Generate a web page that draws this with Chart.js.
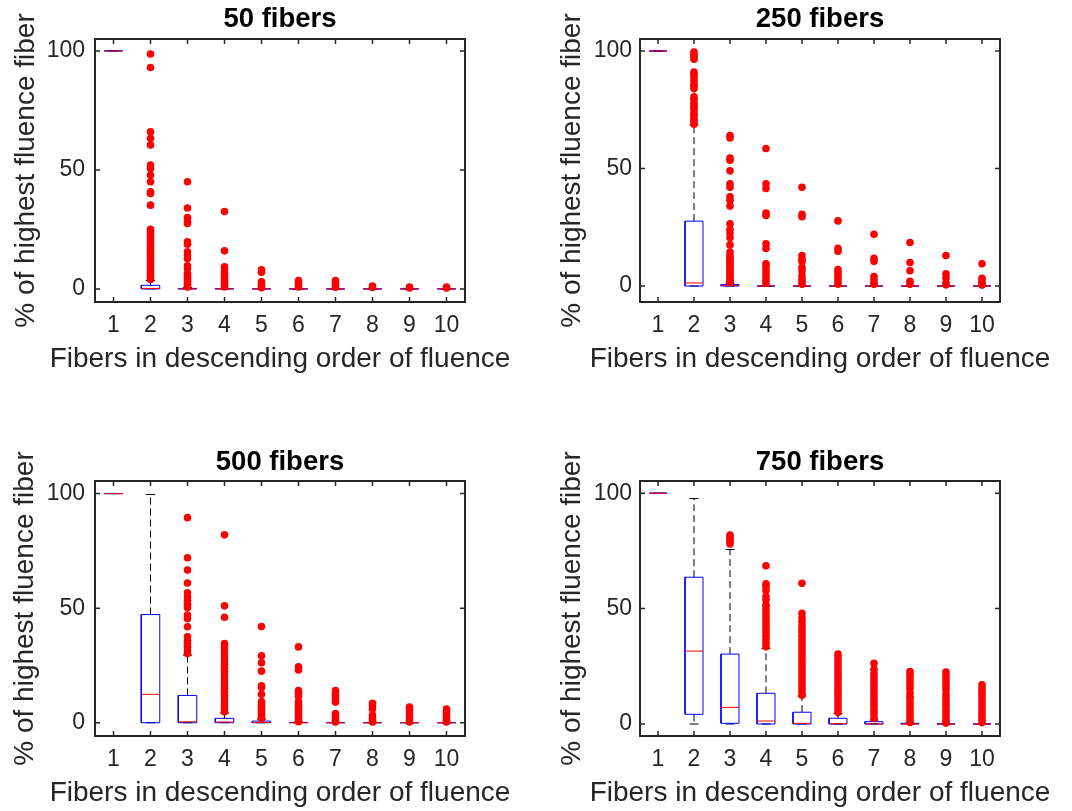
<!DOCTYPE html>
<html>
<head>
<meta charset="utf-8">
<script src="https://cdn.jsdelivr.net/npm/chart.js@4.4.1/dist/chart.umd.min.js"></script>
<style>
  body { margin: 0; background: #fff; }
  #wrap { position: relative; width: 1072px; height: 811px; }
  .panel { position: absolute; }
</style>
</head>
<body>
<div id="wrap"></div>
<script>
// categories (fiber rank) and tick labels
const categories = [1, 2, 3, 4, 5, 6, 7, 8, 9, 10];
const yTickValues = [0, 50, 100];
const panelTitles = ['50 fibers', '250 fibers', '500 fibers', '750 fibers'];
const xTitle = 'Fibers in descending order of fluence';
const yTitle = '% of highest fluence fiber';

// 50 fibers
const q1_50  = [100, 0, 0, 0, 0, 0, 0, 0, 0, 0];
const med_50 = [100, 0.2, 0, 0, 0, 0, 0, 0, 0, 0];
const q3_50  = [100, 1.5, 0.2, 0.1, 0, 0, 0, 0, 0, 0];
const wlo_50 = [100, 0, 0, 0, 0, 0, 0, 0, 0, 0];
const whi_50 = [100, 3.5, 0.5, 0.2, 0, 0, 0, 0, 0, 0];
const out_50 = [
  [],
  [98.7, 93, 66, 63.3, 60.5, 52, 50.6, 47.8, 45, 40.8, 40.1, 35.2, 25, 24, 23, 22, 21, 20, 19, 18, 17, 16, 15, 14, 13, 12, 11, 10, 9, 8, 7, 6, 5, 4],
  [45, 34, 30, 28.2, 27.5, 19.8, 18.8, 15.6, 14.2, 12.8, 9.7, 8.6, 6.5, 5.5, 4.5, 3.5, 2.5, 1.5, 0.8],
  [32.5, 16, 9.3, 7.9, 6.5, 5.5, 4.5, 3.5, 2.5, 1.5, 0.8],
  [8, 7, 3, 2, 1, 0.5],
  [3.5, 2.5, 1.5, 0.8],
  [3.5, 2.5, 1.5, 0.7],
  [1.2, 0.6],
  [0.8, 0.4],
  [0.8, 0.4]
];

// 250 fibers
const q1_250  = [100, 0, 0, 0, 0, 0, 0, 0, 0, 0];
const med_250 = [100, 1.3, 0.2, 0, 0, 0, 0, 0, 0, 0];
const q3_250  = [100, 27.6, 0.6, 0, 0, 0, 0, 0, 0, 0];
const wlo_250 = [100, 0, 0, 0, 0, 0, 0, 0, 0, 0];
const whi_250 = [100, 68.5, 1.2, 0.1, 0, 0, 0, 0, 0, 0];
const out_250 = [
  [],
  [99.5, 98.5, 97.5, 96.5, 91, 90, 89, 87.5, 86, 85, 84, 80.5, 79.5, 78, 77, 76, 75, 73.5, 72.5, 71.5, 70.5, 69.5, 68.8],
  [64, 63, 54.5, 53.5, 49, 43.5, 42, 38, 36.5, 34, 26.5, 24, 22.5, 20.5, 17.5, 14.5, 13, 12, 11, 10, 9, 8, 7, 6, 5, 4, 3, 2, 1.5],
  [58.5, 43.5, 41.5, 31, 30, 18, 16, 9.5, 8.5, 7, 5.5, 4, 2.5, 1.2],
  [42, 30.5, 29.5, 13, 11.5, 10.5, 8, 6.5, 4.5, 3, 1.8, 0.8],
  [27.7, 16, 14.8, 7, 5.8, 4.5, 3.2, 1.8, 0.8],
  [22, 11.8, 10.5, 4, 2.8, 1.5, 0.7],
  [18.5, 10, 6.5, 2, 0.8],
  [13, 5.2, 3.5, 1.5, 0.5],
  [9.5, 3.3, 2.2, 1, 0.4]
];

// 500 fibers
const q1_500  = [100, 0, 0, 0, 0, 0, 0, 0, 0, 0];
const med_500 = [100, 12.4, 0.4, 0.3, 0.1, 0, 0, 0, 0, 0];
const q3_500  = [100, 47.2, 11.9, 1.9, 0.7, 0.1, 0, 0, 0, 0];
const wlo_500 = [100, 0, 0, 0, 0, 0, 0, 0, 0, 0];
const whi_500 = [100, 99.6, 29.5, 4.2, 1.6, 0.3, 0, 0, 0, 0];
const out_500 = [
  [],
  [],
  [89.5, 72, 66.6, 61, 56.7, 55, 53.5, 51.7, 50.3, 47, 45.5, 41.9, 37.5, 36, 34.6, 33.1, 31.4, 30.2],
  [82, 51, 46, 34.5, 33, 31.5, 30, 28.5, 27, 25.5, 24, 22.5, 21, 19.5, 18, 16.5, 15, 13.5, 12, 10.5, 9, 7.5, 6, 4.8],
  [42, 29.2, 26.2, 22.5, 16.1, 15.4, 12.4, 9.2, 8, 7, 6, 5, 4, 3, 2],
  [33.1, 24.4, 23, 14, 12.8, 11.6, 9.2, 8, 7, 6, 5, 4, 3, 2, 1, 0.4],
  [14, 13, 12, 11, 10, 9, 4, 3, 2, 1, 0.3],
  [8.5, 7.5, 6, 3.3, 2, 1, 0.3],
  [6.8, 5.5, 4.2, 2.5, 1.2, 0.3],
  [6, 5, 4, 3, 2, 1, 0.3]
];

// 750 fibers
const q1_750  = [100, 4.2, 0.3, 0, 0, 0, 0, 0, 0, 0];
const med_750 = [100, 31.6, 7.2, 1.3, 0.3, 0.1, 0, 0, 0, 0];
const q3_750  = [100, 63.6, 30.3, 13.3, 5.1, 2.5, 1, 0.3, 0.1, 0];
const wlo_750 = [100, 0, 0, 0, 0, 0, 0, 0, 0, 0];
const whi_750 = [100, 97.7, 75.6, 32.8, 12.1, 4.6, 1.7, 0.5, 0.2, 0];
const out_750 = [
  [],
  [],
  [81.9, 81.2, 80.1, 79, 78],
  [68.6, 60.7, 59.5, 57.8, 55.2, 53.8, 51.5, 50, 48.5, 47, 45.5, 44, 42.5, 41, 39.5, 38, 36.5, 35, 33.5],
  [61, 48, 46, 44.4, 42.5, 41, 39.5, 38, 36.5, 35, 33.5, 32, 30.5, 29, 27.5, 26, 24.5, 23, 21.5, 20, 18.5, 17, 15.5, 14, 12.5],
  [30.3, 29, 27.5, 26, 24.5, 23, 21.5, 20, 18.5, 17, 15.5, 14, 12.5, 11, 9.5, 8, 6.5, 5],
  [26.3, 23.7, 22, 20.5, 19, 17.5, 16, 14.5, 13, 11.5, 10, 8.5, 7, 5.5, 4, 2.5],
  [22.7, 21.5, 20, 18.5, 17, 15.5, 13.5, 12, 11, 9.5, 8, 6.5, 5, 3.5, 2, 0.7],
  [22.5, 21, 19.5, 18, 16.5, 15, 13, 11.5, 10, 8.5, 7, 5.5, 4, 2.5, 1, 0.4],
  [17, 15.5, 14, 12.5, 11, 9.5, 8, 6.5, 5, 3.5, 2, 0.6]
];

const yLimits = [[-5.5, 105], [-6.8, 105.1], [-5.8, 105.5], [-5.2, 105.3]];

const panels = [
  { q1: q1_50,  med: med_50,  q3: q3_50,  wlo: wlo_50,  whi: whi_50,  out: out_50 },
  { q1: q1_250, med: med_250, q3: q3_250, wlo: wlo_250, whi: whi_250, out: out_250 },
  { q1: q1_500, med: med_500, q3: q3_500, wlo: wlo_500, whi: whi_500, out: out_500 },
  { q1: q1_750, med: med_750, q3: q3_750, wlo: wlo_750, whi: whi_750, out: out_750 }
];

// where each subplot sits on the page
const layouts = [
  { left: 0,   top: 0,   w: 536, h: 400, yWidth: 95,  padRight: 71, xHeight: 98, titlePad: { top: 2.5, bottom: 3.5 },  yTitlePad: 9.2,  xTitleY: 359, yTickPad: 10 },
  { left: 536, top: 0,   w: 536, h: 400, yWidth: 104, padRight: 72, xHeight: 98, titlePad: { top: 2.5, bottom: 3.5 },  yTitlePad: 19.2, xTitleY: 359, yTickPad: 8 },
  { left: 0,   top: 400, w: 536, h: 411, yWidth: 95,  padRight: 71, xHeight: 75, titlePad: { top: 45.5, bottom: 2.5 }, yTitlePad: 8.7,  xTitleY: 393, yTickPad: 10 },
  { left: 536, top: 400, w: 536, h: 411, yWidth: 104, padRight: 72, xHeight: 75, titlePad: { top: 45.5, bottom: 2.5 }, yTitlePad: 19.2, xTitleY: 393, yTickPad: 8 }
];

const HALF_BOX = 0.25;
const HALF_CAP = 0.125;
const AXIS_COLOR = '#262626';
const LABEL_SIZE = 28;
const FONT = "'Liberation Sans', Arial, Helvetica, sans-serif";

Chart.defaults.font.family = FONT;

// MATLAB style box around the axes with inward ticks
const frameTicks = {
  id: 'frameTicks',
  afterDatasetsDraw(chart) {
    const { ctx, chartArea: a, scales: { x, y } } = chart;
    ctx.save();
    ctx.strokeStyle = AXIS_COLOR;
    ctx.lineWidth = 1.5;
    ctx.beginPath();
    x.ticks.forEach(t => {
      const px = x.getPixelForValue(t.value);
      ctx.moveTo(px, a.bottom); ctx.lineTo(px, a.bottom - 5);
      ctx.moveTo(px, a.top); ctx.lineTo(px, a.top + 5);
    });
    y.ticks.forEach(t => {
      const py = y.getPixelForValue(t.value);
      ctx.moveTo(a.left, py); ctx.lineTo(a.left + 5, py);
      ctx.moveTo(a.right, py); ctx.lineTo(a.right - 5, py);
    });
    ctx.stroke();
    ctx.lineWidth = 2;
    ctx.strokeRect(a.left, a.top, a.right - a.left, a.bottom - a.top);
    ctx.restore();
  }
};

// x axis label, drawn without the width squeeze Chart.js applies to scale titles
const xLabel = {
  id: 'xLabel',
  afterDraw(chart, args, opts) {
    const { ctx, scales: { x } } = chart;
    ctx.save();
    ctx.font = LABEL_SIZE + 'px ' + FONT;
    ctx.fillStyle = AXIS_COLOR;
    ctx.textAlign = 'center';
    ctx.textBaseline = 'middle';
    ctx.fillText(opts.text, (x.left + x.right) / 2, opts.y);
    ctx.restore();
  }
};

function buildDatasets(p) {
  const boxPts = [], medPts = [], whiskPts = [], capPts = [], outPts = [];
  categories.forEach((c, i) => {
    boxPts.push(
      { x: c - HALF_BOX, y: p.q1[i] }, { x: c + HALF_BOX, y: p.q1[i] },
      { x: c + HALF_BOX, y: p.q3[i] }, { x: c - HALF_BOX, y: p.q3[i] },
      { x: c - HALF_BOX, y: p.q1[i] }, { x: c, y: null });
    medPts.push({ x: c - HALF_BOX, y: p.med[i] }, { x: c + HALF_BOX, y: p.med[i] }, { x: c, y: null });
    whiskPts.push({ x: c, y: p.q3[i] }, { x: c, y: p.whi[i] }, { x: c, y: null });
    whiskPts.push({ x: c, y: p.q1[i] }, { x: c, y: p.wlo[i] }, { x: c, y: null });
    capPts.push({ x: c - HALF_CAP, y: p.whi[i] }, { x: c + HALF_CAP, y: p.whi[i] }, { x: c, y: null });
    capPts.push({ x: c - HALF_CAP, y: p.wlo[i] }, { x: c + HALF_CAP, y: p.wlo[i] }, { x: c, y: null });
    p.out[i].forEach(v => outPts.push({ x: c, y: v }));
  });
  const line = { showLine: true, pointRadius: 0, borderWidth: 1, spanGaps: false, tension: 0 };
  // first dataset is drawn on top
  return [
    { label: 'outliers', data: outPts, pointRadius: 3.8, pointBackgroundColor: '#ff0000', pointBorderWidth: 0, showLine: false },
    Object.assign({ label: 'median', data: medPts, borderColor: '#ff0000' }, line),
    Object.assign({ label: 'box', data: boxPts, borderColor: '#0000ff' }, line),
    Object.assign({ label: 'caps', data: capPts, borderColor: '#000000' }, line),
    Object.assign({ label: 'whiskers', data: whiskPts, borderColor: '#000000', borderDash: [7, 4] }, line)
  ];
}

const wrap = document.getElementById('wrap');

panels.forEach((p, k) => {
  const L = layouts[k];
  const div = document.createElement('div');
  div.className = 'panel';
  div.style.left = L.left + 'px';
  div.style.top = L.top + 'px';
  const canvas = document.createElement('canvas');
  canvas.width = L.w;
  canvas.height = L.h;
  canvas.style.width = L.w + 'px';
  canvas.style.height = L.h + 'px';
  div.appendChild(canvas);
  wrap.appendChild(div);

  new Chart(canvas.getContext('2d'), {
    type: 'scatter',
    data: { datasets: buildDatasets(p) },
    options: {
      responsive: false,
      animation: false,
      events: [],
      layout: { padding: { left: 0, top: 0, right: L.padRight, bottom: 0 } },
      plugins: {
        legend: { display: false },
        tooltip: { enabled: false },
        title: {
          display: true,
          text: panelTitles[k],
          fullSize: false,
          color: '#000',
          font: { size: 27.5, weight: 'bold' },
          padding: L.titlePad
        },
        xLabel: { text: xTitle, y: L.xTitleY }
      },
      scales: {
        x: {
          type: 'linear',
          min: 0.5,
          max: 10.5,
          grid: { display: false, drawTicks: false },
          border: { display: false },
          afterBuildTicks: s => { s.ticks = categories.map(v => ({ value: v })); },
          afterFit: s => { s.height = L.xHeight; },
          ticks: { color: AXIS_COLOR, font: { size: 23 }, padding: 10, autoSkip: false, maxRotation: 0 },
          title: { display: false }
        },
        y: {
          type: 'linear',
          min: yLimits[k][0],
          max: yLimits[k][1],
          grid: { display: false, drawTicks: false },
          border: { display: false },
          afterBuildTicks: s => { s.ticks = yTickValues.map(v => ({ value: v })); },
          afterFit: s => { s.width = L.yWidth; },
          ticks: { color: AXIS_COLOR, font: { size: 23 }, padding: L.yTickPad },
          title: { display: true, text: yTitle, color: AXIS_COLOR, font: { size: LABEL_SIZE }, padding: { top: L.yTitlePad, bottom: 0 } }
        }
      }
    },
    plugins: [frameTicks, xLabel]
  });
});
</script>
</body>
</html>
